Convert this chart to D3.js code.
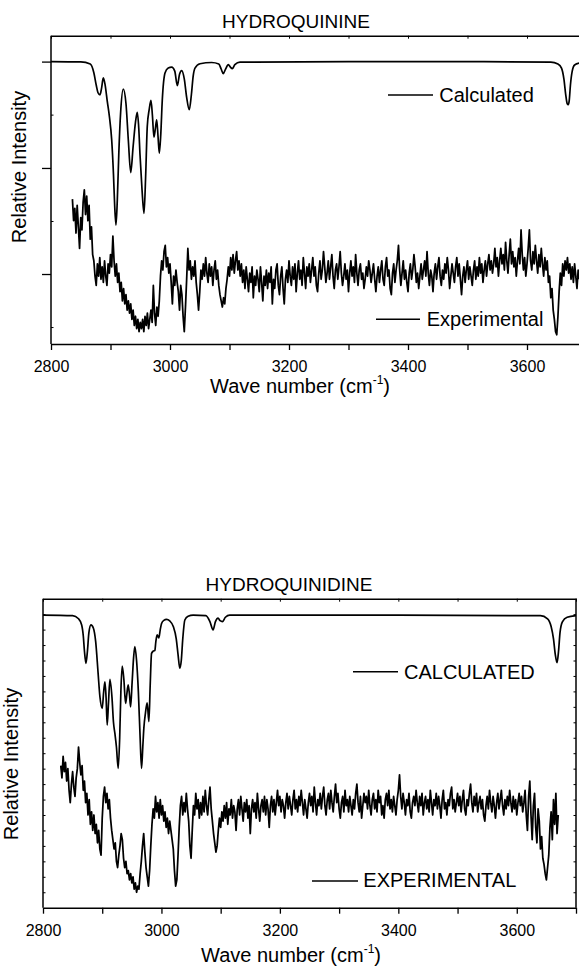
<!DOCTYPE html>
<html><head><meta charset="utf-8">
<script src="https://cdn.jsdelivr.net/npm/d3@7"></script>
<style>
body{margin:0;background:#fff}
svg{display:block}
text{font-family:"Liberation Sans",Arial,Helvetica,sans-serif;fill:#000}
</style>
</head><body>
<svg id="c" width="579" height="973"></svg>
<script>
// ---------- DATA ----------
const xDomain = [2800, 3700];
const xTickLabels = [2800, 3000, 3200, 3400, 3600];
const xAllTicks = [2800, 2900, 3000, 3100, 3200, 3300, 3400, 3500, 3600, 3700];

const topTitle = "HYDROQUININE";
const botTitle = "HYDROQUINIDINE";
const topLegend = ["Calculated", "Experimental"];
const botLegend = ["CALCULATED", "EXPERIMENTAL"];

// Calculated spectrum, hydroquinine [wavenumber, relative intensity]
const topCalc = [[2800,91.6],[2850,91.5],[2866,90.8],[2872,88],[2876,84],[2879,81.5],[2882.4,80.8],[2885,83],[2887.9,86.3],[2891,84],[2894.6,78.7],[2898,74],[2902,66.2],[2905,55],[2907,45],[2909.2,38.6],[2911.5,47],[2914,62],[2917,75],[2921.5,82.7],[2926,78],[2930,66],[2934,55.6],[2938,64],[2942,72],[2945,75.1],[2947.5,70],[2949.6,61.4],[2953,50],[2956.3,42.4],[2959,54],[2961.8,70.6],[2965,76],[2968,79],[2970.5,74],[2973,67.1],[2975.5,70],[2977.6,72.7],[2980,67],[2982,61.9],[2984.5,68],[2987,79],[2991.6,87.9],[2997,89.5],[3002.9,89.8],[3008,88.5],[3012.3,83.8],[3016,87.5],[3019.7,88.7],[3024,86],[3028,80],[3032.4,76.0],[3036,81],[3039,87],[3042,89.5],[3050.4,90.9],[3070,91.3],[3082,90.8],[3086,89.2],[3089.6,87.7],[3093,89],[3098,90.6],[3101.5,89.8],[3104.7,89.3],[3109,90.6],[3117.6,91.4],[3300,91.6],[3500,91.6],[3640,91.4],[3652,90.8],[3658,89.5],[3662,86],[3665,81],[3667.5,78],[3669.4,77.6],[3671,79],[3673,84],[3676,88.5],[3680,90.5],[3690,91.2],[3700,91.5]];

// Experimental spectrum, hydroquinine: sampled every 2 cm-1 from 2836
const topExpStart = 2836;
const topExpStep = 2;
const topExpValues = [
47,40,44,36,45,38,31,41,37,46,50,42,48,40,45,34,38,29,27,22,
19,26,22,28,21,25,20,27,22,19,26,23,29,25,35,27,22,26,20,23,
17,20,14,18,13,16,11,14,10,13,8,11,6,9,5,8,4,7,5,8,
4,9,6,10,5,8,11,7,19,10,6,12,9,14,22,27,24,30,32,25,
28,23,26,20,13,22,19,24,20,17,11,19,16,9,4,12,21,31,24,27,
21,25,22,27,20,16,11,17,24,21,26,22,28,23,20,26,22,25,19,24,
27,21,24,19,16,14,12,15,13,18,21,25,22,28,24,29,23,27,30,24,
27,22,26,20,24,18,25,21,17,23,20,25,15,22,19,24,21,17,25,20,
14,22,19,24,18,23,20,25,13,21,18,24,26,19,16,22,25,18,13,21,
24,20,27,22,19,25,21,26,17,23,27,21,24,19,28,23,18,25,22,26,
20,24,28,22,25,19,17,23,27,21,24,30,25,20,23,27,21,25,29,22,
18,24,26,21,25,30,23,19,22,26,21,24,17,23,27,22,25,20,29,23,
19,24,26,21,23,18,21,25,22,27,24,20,23,26,21,17,22,25,20,24,
27,21,19,25,28,22,24,18,16,23,26,20,24,27,32,24,19,23,27,21,
24,20,17,23,26,21,24,29,25,20,23,18,22,26,21,24,27,22,30,23,
19,24,22,17,23,26,21,25,28,22,19,24,21,26,23,28,24,18,22,26,
23,20,25,28,22,26,21,16,22,25,20,24,27,21,25,22,19,24,27,21,
25,22,28,23,26,20,24,27,22,26,29,24,27,23,26,31,25,28,22,27,
31,26,29,24,33,27,23,29,34,26,30,25,28,22,27,31,26,37,29,24,
28,22,26,31,37,27,24,30,26,32,27,23,29,25,31,26,22,28,24,27,
20,22,15,18,11,8,4,3,9,17,23,19,26,22,27,24,28,23,26,21,
25,20,26,22,18,24,21];

// Calculated spectrum, hydroquinidine
const botCalc = [[2800,94.7],[2850,94.5],[2860,93.5],[2865.3,91.5],[2868,88],[2870,83],[2872.5,79.1],[2875,83],[2877.5,89],[2881,91.5],[2885,90.5],[2889,86],[2893,76],[2896.1,68.3],[2900,64.5],[2902.5,70],[2904.6,73.1],[2906.5,68],[2908.4,59.1],[2910.5,66],[2913,73.9],[2916.5,68],[2919,60],[2921.4,56.4],[2924,52],[2927,45.1],[2929.5,55],[2931.5,70],[2933.7,78.2],[2936.5,74],[2939.5,66.1],[2941.5,69],[2943.8,72.1],[2946,69],[2947.9,65.0],[2950.5,73],[2953,81],[2955.1,84.5],[2958,80],[2961,70],[2964,55],[2966.4,45.1],[2968.5,52],[2970.3,58.1],[2973,63],[2975.9,66.3],[2978.8,60.2],[2981,72],[2983.3,82.3],[2986,83],[2988.9,83.3],[2990.5,86],[2992.7,88.3],[2995.6,87.3],[2998,90],[3000.2,92.0],[3004,93],[3008.6,93.3],[3014,92.8],[3020,91],[3025,87],[3028,82],[3031,77.5],[3033.5,80],[3036,87],[3039.5,93.1],[3045,94.3],[3053.5,94.7],[3075,94.5],[3082,92.5],[3087.2,89.9],[3091,92.5],[3095.6,93.7],[3099,92.9],[3103,92.6],[3108,94],[3115.3,94.7],[3400,94.7],[3640,94.5],[3652,93.5],[3658,91],[3662,87],[3665,82],[3668,79.3],[3670.5,83],[3673,89],[3677,92.5],[3685,94],[3700,94.5]];

// Experimental spectrum, hydroquinidine: sampled every 2 cm-1 from 2830
const botExpStart = 2830;
const botExpStep = 2;
const botExpValues = [
46,42,49,44,47,41,45,38,34,40,44,39,36,42,45,52,47,43,46,38,
41,34,37,30,35,27,31,25,30,24,27,21,25,19,17,29,36,39,34,37,
32,35,29,25,22,19,21,15,13,17,20,24,22,16,13,15,11,12,9,11,
8,10,6,8,5,7,6,11,15,20,24,18,13,10,7,12,20,27,32,29,
36,31,34,29,35,30,33,28,31,26,29,24,28,25,22,19,12,7,9,17,
26,33,36,30,34,31,37,32,28,20,16,25,33,30,37,32,35,29,34,30,
36,31,38,33,30,35,39,32,28,24,21,18,20,25,29,26,31,28,33,29,
34,27,32,30,35,29,33,31,25,32,35,30,36,32,28,34,31,35,29,33,
24,32,35,31,34,29,37,32,28,33,35,31,36,30,35,32,26,33,36,31,
35,30,34,38,33,36,31,35,33,29,34,37,32,36,33,30,35,38,32,35,
31,36,33,38,34,30,35,32,29,34,37,33,36,31,39,34,30,35,33,37,
32,36,39,33,30,35,37,32,38,34,31,36,40,34,37,32,29,34,36,31,
38,33,35,31,36,33,30,35,32,37,40,34,31,36,29,33,37,34,36,32,
38,33,30,35,37,32,35,31,38,34,36,30,33,29,35,37,33,38,32,35,
31,36,33,30,35,38,43,36,32,37,34,30,35,33,37,31,29,34,36,33,
38,34,31,36,33,37,30,34,36,32,35,31,38,34,30,35,33,37,32,36,
33,29,35,38,32,34,30,35,33,37,39,32,35,31,34,37,33,36,31,35,
38,32,30,35,33,37,40,34,31,36,33,37,31,34,36,32,35,30,28,33,
36,32,38,34,31,36,33,29,34,37,32,35,38,33,30,35,32,36,33,38,
34,31,36,32,35,30,34,37,33,36,31,34,38,30,25,36,41,30,22,33,
37,26,21,32,28,19,23,16,14,11,9,13,17,26,31,22,35,27,37,24,
30];

const topExp = topExpValues.map((v, i) => [topExpStart + i * topExpStep, v]);
const botExp = botExpValues.map((v, i) => [botExpStart + i * botExpStep, v]);

const topYMajor = [22.7, 57.1, 91.6];
const topYMinor = [5.5, 39.9, 74.4];
const botYMinor = [5,10,15,20,25,30,35,40,45,50,55,60,65,70,75,80,85,90,95];

// ---------- DRAW ----------
const svg = d3.select("#c");
const FONT = 20;

function panel(o) {
  const x = d3.scaleLinear().domain(xDomain).range([o.left, o.right]);
  const y = d3.scaleLinear().domain([0, 100]).range([o.bottom, o.top]);
  const g = svg.append("g");
  const cid = "clip" + o.id;
  svg.append("defs").append("clipPath").attr("id", cid)
    .append("rect").attr("x", o.left).attr("y", o.top)
    .attr("width", o.right - o.left).attr("height", o.bottom - o.top);

  const calcLine = d3.line().x(d => x(d[0])).y(d => y(d[1])).curve(d3.curveMonotoneX);
  const expLine = d3.line().x(d => x(d[0])).y(d => y(d[1]));
  g.append("path").datum(o.calc).attr("d", calcLine).attr("clip-path", `url(#${cid})`)
    .attr("fill", "none").attr("stroke", "#000").attr("stroke-width", 1.7);
  g.append("path").datum(o.exp).attr("d", expLine).attr("clip-path", `url(#${cid})`)
    .attr("fill", "none").attr("stroke", "#000").attr("stroke-width", 1.75).attr("stroke-linejoin", "round");

  const bAx = d3.axisBottom(x).tickValues(xAllTicks).tickSize(6).tickSizeOuter(0)
    .tickFormat(d => xTickLabels.includes(d) ? d : "");
  const ba = g.append("g").attr("transform", `translate(0,${o.bottom})`).call(bAx);
  ba.attr("font-family", null);
  ba.select(".domain").attr("stroke-width", 1.5);
  ba.selectAll(".tick line").attr("stroke-width", 1.3);
  ba.selectAll(".tick text").attr("font-size", 16).attr("dy", null).attr("y", 28);

  const tAx = d3.axisBottom(x).tickValues(xAllTicks).tickSize(3).tickSizeOuter(0).tickFormat("");
  const ta = g.append("g").attr("transform", `translate(0,${o.top})`).call(tAx);
  ta.select(".domain").attr("stroke-width", 1.5);

  const la = g.append("g").attr("transform", `translate(${o.left},0)`)
    .call(d3.axisLeft(y).tickValues(o.yMajor).tickSize(o.yMajor.length ? 9 : 0).tickSizeOuter(0).tickFormat(""));
  la.select(".domain").attr("stroke-width", 1.5).attr("d", `M0,${o.top}V${o.bottom}`);
  la.selectAll(".tick line").attr("stroke-width", 1.3);
  g.append("g").attr("transform", `translate(${o.left},0)`)
    .call(d3.axisRight(y).tickValues(o.yMinor).tickSize(2.5).tickSizeOuter(0).tickFormat(""))
    .select(".domain").remove();

  if (o.rightAxis) {
    const ra = g.append("g").attr("transform", `translate(${o.right},0)`)
      .call(d3.axisLeft(y).tickValues(o.yMinor).tickSize(2.5).tickSizeOuter(0).tickFormat(""));
    ra.select(".domain").attr("stroke-width", 1.5).attr("d", `M0,${o.top}V${o.bottom}`);
  }

  g.append("text").attr("x", o.titleX).attr("y", o.titleY).attr("text-anchor", "middle")
    .attr("font-size", 19).text(o.title);
  const xl = g.append("text").attr("x", o.xlabX).attr("y", o.bottom + o.xlabOff).attr("text-anchor", "middle")
    .attr("font-size", FONT);
  xl.append("tspan").text("Wave number (cm");
  xl.append("tspan").attr("font-size", 12).attr("dy", -9).text("-1");
  xl.append("tspan").attr("dy", 9).text(")");
  g.append("text").attr("transform", `translate(${o.ylabX},${o.ylabY}) rotate(-90)`)
    .attr("text-anchor", "middle").attr("font-size", FONT).text("Relative Intensity");

  o.legend.forEach((L, i) => {
    g.append("line").attr("x1", L.x1).attr("x2", L.x2).attr("y1", L.y).attr("y2", L.y)
      .attr("stroke", "#000").attr("stroke-width", 1.5);
    g.append("text").attr("x", L.tx).attr("y", L.ty).attr("font-size", FONT).text(o.legendText[i]);
  });
}

panel({
  id: "t", left: 51, right: 586.5, top: 35.7, bottom: 344,
  calc: topCalc, exp: topExp, yMajor: topYMajor, yMinor: topYMinor, rightAxis: false,
  title: topTitle, titleX: 296, titleY: 28.3, xlabX: 300, xlabOff: 49, ylabX: 26, ylabY: 167,
  legendText: topLegend,
  legend: [{x1: 388, x2: 433, y: 95, tx: 439.3, ty: 102.3},
           {x1: 376, x2: 420, y: 319.3, tx: 426.7, ty: 326}]
});
panel({
  id: "b", left: 43, right: 576, top: 598.7, bottom: 907.7,
  calc: botCalc, exp: botExp, yMajor: [], yMinor: botYMinor, rightAxis: true,
  title: botTitle, titleX: 289, titleY: 590.7, xlabX: 291, xlabOff: 54, ylabX: 18, ylabY: 764,
  legendText: botLegend,
  legend: [{x1: 353, x2: 398, y: 671.7, tx: 404, ty: 679.3},
           {x1: 312, x2: 358, y: 881, tx: 363.3, ty: 886.7}]
});
</script>
</body></html>
